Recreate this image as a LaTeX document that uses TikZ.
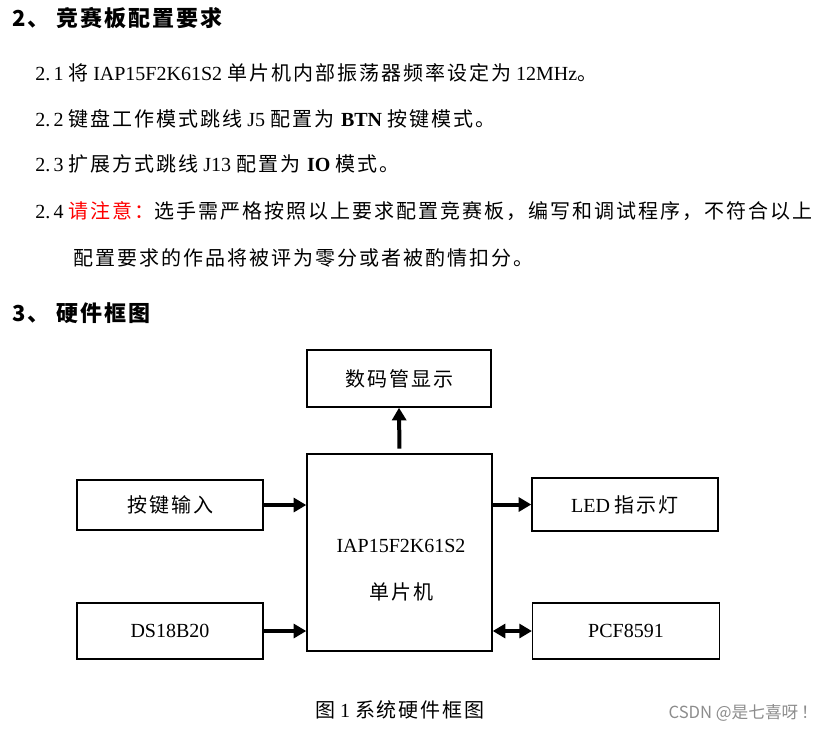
\documentclass[tikz,border=0pt]{standalone}
\usepackage{fontspec}
\setmainfont{Liberation Serif}
\newfontfamily\cjk[LetterSpace=10]{Noto Sans CJK SC}
\newfontfamily\cjkh[LetterSpace=9]{Noto Sans CJK SC}
\newfontfamily\cjkw{Noto Sans CJK SC}
\newcommand\zh[1]{{\cjk #1}}
\newcommand\itemno[2]{#1.\hspace{2.5pt}#2\hspace{3.5pt}}
\usetikzlibrary{arrows.meta}
\tikzset{
    txt/.style={anchor=west, inner sep=0pt, font=\fontsize{15}{18}\selectfont},
    head/.style={anchor=west, inner sep=0pt, font=\cjkh\bfseries\fontsize{16.5}{20}\selectfont},
    box/.style={draw, line width=1.1pt, inner sep=0pt, font=\fontsize{15}{18}\selectfont},
    link/.style={line width=3pt},
}
\begin{document}
\begin{tikzpicture}[x=.75pt, y=-.75pt, >={Triangle[length=9.5pt,width=10.5pt]}]
\useasboundingbox (0,0) rectangle (830,732);
\node[head](h2) at (12,18) {2、\hspace{5pt}竞赛板配置要求};
\node[txt](l1) at (35,73) {\itemno21\zh{将} IAP15F2K61S2 \zh{单片机内部振荡器频率设定为} 12MHz\zh{。}};
\node[txt](l2) at (35,119) {\itemno22\zh{键盘工作模式跳线} J5 \zh{配置为} \textbf{BTN} \zh{按键模式。}};
\node[txt](l3) at (35,164) {\itemno23\zh{扩展方式跳线} J13 \zh{配置为} \textbf{IO} \zh{模式。}};
\node[txt](l4) at (35,211) {\itemno24{\cjk\color{red}请注意：}\zh{选手需严格按照以上要求配置竞赛板，编写和调试程序，不符合以上}};
\node[txt](l5) at (73,258) {\zh{配置要求的作品将被评为零分或者被酌情扣分。}};
\node[head](h3) at (12,313) {3、\hspace{5pt}硬件框图};

\node[box, minimum width=138pt, minimum height=42.75pt](seg) at (399,378.5) {\zh{数码管显示}};
\node[box, minimum width=138.75pt, minimum height=147.75pt](mcu) at (399.5,552.5) {};
\node[txt, anchor=center](mcuname) at (401,546) {IAP15F2K61S2};
\node[txt, anchor=center](mcutype) at (401,592) {\zh{单片机}};
\node[box, minimum width=139.5pt, minimum height=37.5pt](key) at (170,505) {\zh{按键输入}};
\node[box, minimum width=139.5pt, minimum height=39.75pt](led) at (625,504.5) {LED \zh{指示灯}};
\node[box, minimum width=139.5pt, minimum height=42pt](ds) at (170,631) {DS18B20};
\node[box, minimum width=140pt, minimum height=42pt](pcf) at (626,631) {PCF8591};

\draw[->, link, shorten <=3.5pt](mcu.north)--(seg.south);
\draw[->, link](key.east)--(key.east-|mcu.west);
\draw[->, link](mcu.east|-led)--(led.west);
\draw[->, link](ds.east)--(ds.east-|mcu.west);
\draw[<->, link](mcu.east|-pcf)--(pcf.west);

\node[txt, anchor=center](cap) at (400,710) {\zh{图} 1 \zh{系统硬件框图}};
\node[anchor=east, inner sep=0pt, text=black!45, font=\cjkw\fontsize{12.5}{14}\selectfont](mark) at (818,713) {CSDN @是七喜呀\hspace{2pt}！};
\end{tikzpicture}
\end{document}
